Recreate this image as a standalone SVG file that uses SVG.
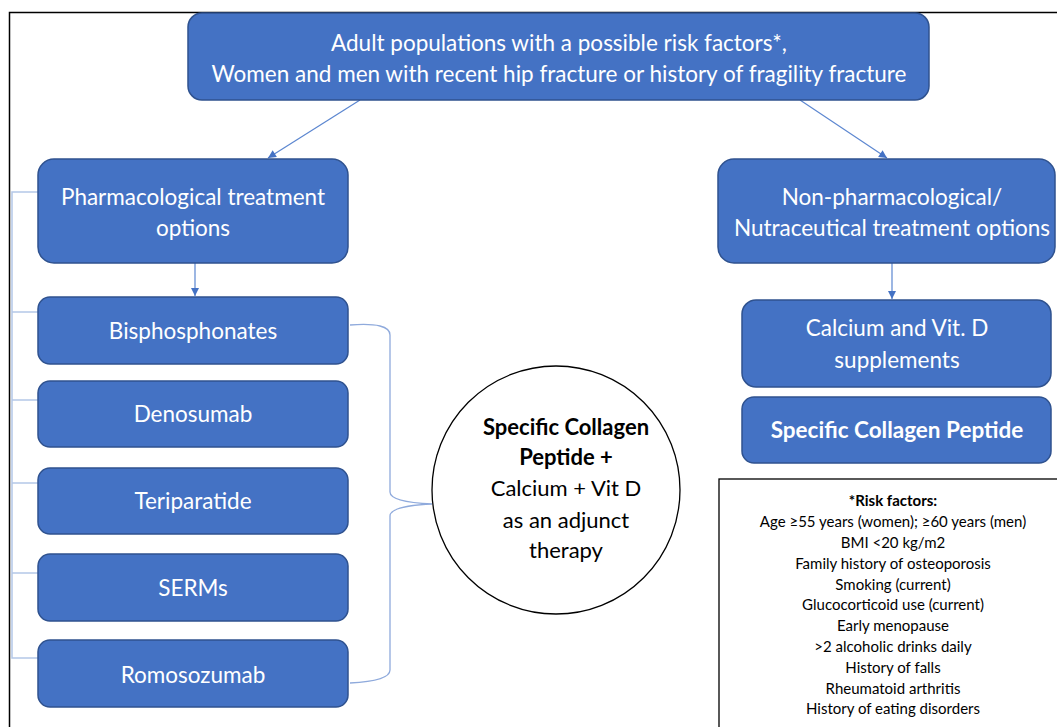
<svg xmlns="http://www.w3.org/2000/svg" width="1057" height="727" viewBox="0 0 1057 727">
<defs>
<style>
.box{fill:#4472c4;stroke:#2f528f;stroke-width:1.5}
.t{font-family:Lato,"Open Sans",sans-serif;fill:#ffffff;text-anchor:middle}
.dk{font-family:Lato,"Open Sans",sans-serif;fill:#000000;text-anchor:middle}
.arr{stroke:#5b86d0;stroke-width:1.2;fill:none}
.tree{stroke:#b4c7e7;stroke-width:1.5;fill:none}
.brace{stroke:#8faadc;stroke-width:1.3;fill:none}
</style>
<marker id="ah" markerWidth="10" markerHeight="10" refX="9" refY="5" orient="auto" markerUnits="userSpaceOnUse">
<path d="M1,1 L9,5 L1,9 Z" fill="#4472c4"/>
</marker>
</defs>
<rect x="0" y="0" width="1057" height="727" fill="#ffffff"/>
<path d="M9.5,740 L9.5,12.5 L1070,12.5" fill="none" stroke="#000" stroke-width="1.5"/>

<g id="connectors">
<line class="arr" x1="360" y1="100" x2="268" y2="158" marker-end="url(#ah)"/>
<line class="arr" x1="800" y1="100" x2="887" y2="158" marker-end="url(#ah)"/>
<line class="arr" x1="195" y1="263" x2="195" y2="296" marker-end="url(#ah)"/>
<line class="arr" x1="892" y1="263" x2="892" y2="299" marker-end="url(#ah)"/>
<path class="tree" d="M38,192 H12 V658 H38 M12,312 H38 M12,400 H38 M12,483 H38 M12,573 H38"/>
<path class="brace" d="M350,325 Q390,322 390,335 V492 Q390,502 432,504 Q390,506 390,516 V670 Q390,681 350,683"/>
</g>

<g id="top">
<rect class="box" x="188" y="13" width="741" height="87" rx="14"/>
<text class="t" x="559" y="51" font-size="22.5">Adult populations with a possible risk factors*,</text>
<text class="t" x="559" y="82" font-size="22.5">Women and men with recent hip fracture or history of fragility fracture</text>
</g>

<g id="pharm">
<rect class="box" x="38" y="159" width="310" height="104" rx="16"/>
<text class="t" x="193" y="205" font-size="22.5">Pharmacological treatment</text>
<text class="t" x="193" y="236" font-size="22.5">options</text>
</g>

<g id="nonpharm">
<rect class="box" x="718" y="159" width="337" height="104" rx="16"/>
<text class="t" x="892" y="205" font-size="22.5">Non-pharmacological/</text>
<text class="t" x="892" y="236" font-size="22.5">Nutraceutical treatment options</text>
</g>

<g id="bisphosphonates">
<rect class="box" x="38" y="297" width="310" height="67" rx="12"/>
<text class="t" x="193" y="339" font-size="22.5">Bisphosphonates</text>
</g>
<g id="denosumab">
<rect class="box" x="38" y="381" width="310" height="66" rx="12"/>
<text class="t" x="193" y="422" font-size="22.5">Denosumab</text>
</g>
<g id="teriparatide">
<rect class="box" x="38" y="468" width="310" height="66" rx="12"/>
<text class="t" x="193" y="509" font-size="22.5">Teriparatide</text>
</g>
<g id="serms">
<rect class="box" x="38" y="554" width="310" height="67" rx="12"/>
<text class="t" x="193" y="596" font-size="22.5">SERMs</text>
</g>
<g id="romosozumab">
<rect class="box" x="38" y="640" width="310" height="67" rx="12"/>
<text class="t" x="193" y="683" font-size="22.5">Romosozumab</text>
</g>

<g id="circle">
<ellipse cx="556" cy="490" rx="124" ry="124" fill="#ffffff" stroke="#000" stroke-width="1.3"/>
<text class="dk" x="566" y="435" font-size="22" font-weight="bold">Specific Collagen</text>
<text class="dk" x="566" y="465" font-size="22" font-weight="bold">Peptide +</text>
<text class="dk" x="566" y="496" font-size="22">Calcium + Vit D</text>
<text class="dk" x="566" y="528" font-size="22">as an adjunct</text>
<text class="dk" x="566" y="558" font-size="22">therapy</text>
</g>

<g id="calcium">
<rect class="box" x="742" y="300" width="309" height="87" rx="14"/>
<text class="t" x="897" y="336" font-size="22.5">Calcium and Vit. D</text>
<text class="t" x="897" y="368" font-size="22.5">supplements</text>
</g>
<g id="scp">
<rect class="box" x="742" y="397" width="309" height="66" rx="12"/>
<text class="t" x="897" y="438" font-size="22.5" font-weight="bold">Specific Collagen Peptide</text>
</g>

<g id="risk">
<rect x="719" y="479" width="360" height="270" fill="#ffffff" stroke="#000" stroke-width="1.3"/>
<text class="dk" x="893" y="506" font-size="15" font-weight="bold">*Risk factors:</text>
<text class="dk" x="893" y="527" font-size="15">Age ≥55 years (women); ≥60 years (men)</text>
<text class="dk" x="893" y="548" font-size="15">BMI &lt;20 kg/m2</text>
<text class="dk" x="893" y="569" font-size="15">Family history of osteoporosis</text>
<text class="dk" x="893" y="590" font-size="15">Smoking (current)</text>
<text class="dk" x="893" y="610" font-size="15">Glucocorticoid use (current)</text>
<text class="dk" x="893" y="631" font-size="15">Early menopause</text>
<text class="dk" x="893" y="652" font-size="15">&gt;2 alcoholic drinks daily</text>
<text class="dk" x="893" y="673" font-size="15">History of falls</text>
<text class="dk" x="893" y="694" font-size="15">Rheumatoid arthritis</text>
<text class="dk" x="893" y="714" font-size="15">History of eating disorders</text>
</g>
</svg>
